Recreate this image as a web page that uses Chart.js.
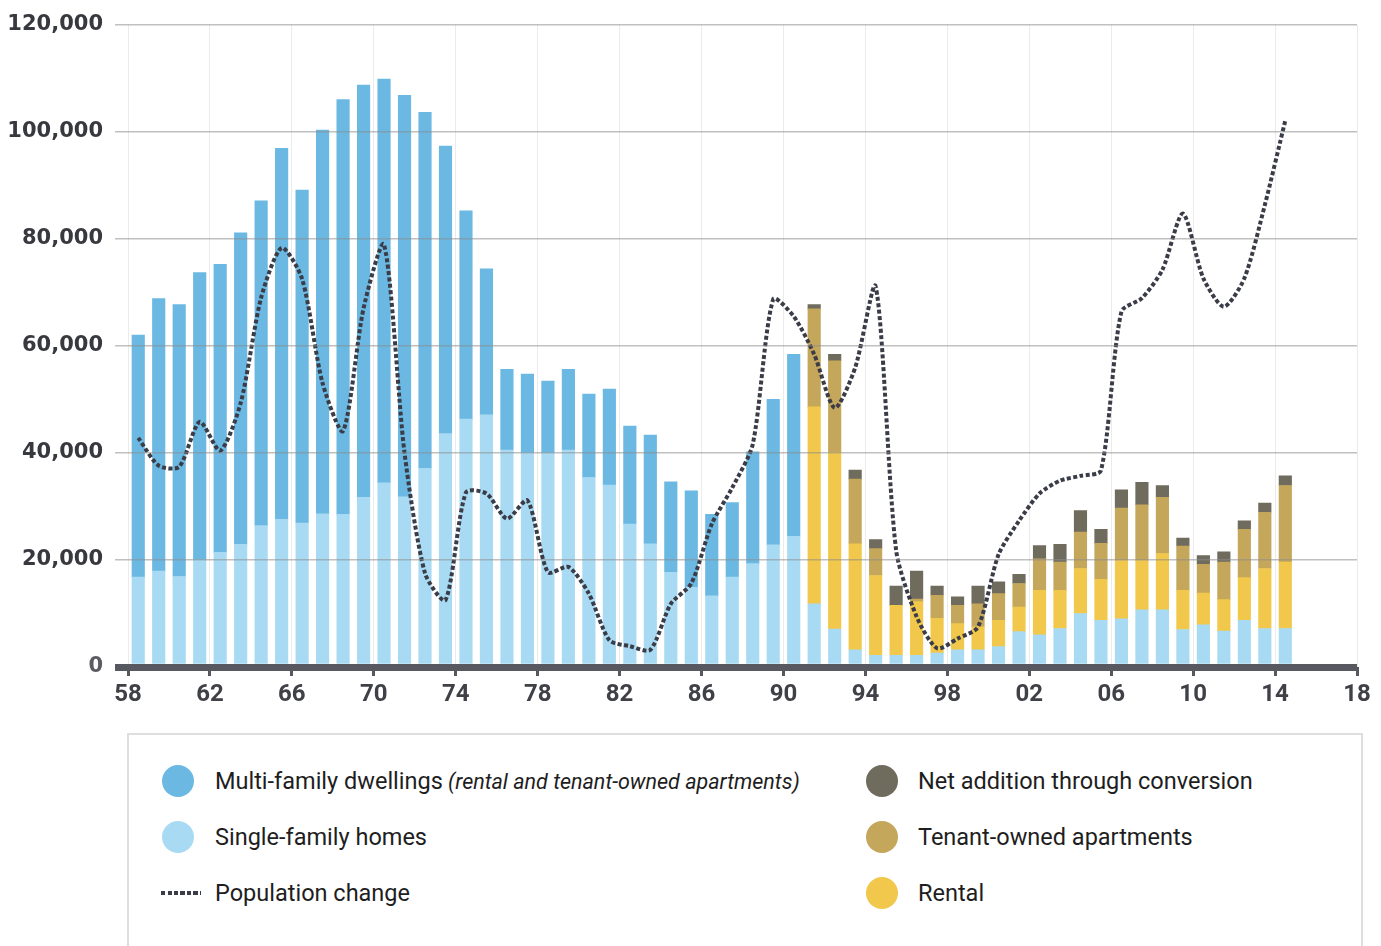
<!DOCTYPE html>
<html>
<head>
<meta charset="utf-8">
<script src="https://cdn.jsdelivr.net/npm/chart.js@4.4.1/dist/chart.umd.min.js"></script>
<style>
  html, body { margin: 0; padding: 0; background: #ffffff; }
  #wrap { position: relative; width: 1381px; height: 946px; overflow: hidden; background: #fff; }
  #c { position: absolute; left: 0; top: 0; }
  #legend { position: absolute; left: 127px; top: 733px; width: 1236px; height: 240px;
            border: 2px solid #dedede; box-sizing: border-box; background: #fff; }
  .item { position: absolute; font-family: Roboto, "Open Sans", sans-serif; font-size: 23.5px; color: #1e1e1e;
          line-height: 30px; white-space: nowrap; }
  .dot { position: absolute; width: 32px; height: 32px; border-radius: 50%; }
  .dash { position: absolute; width: 40px; height: 4px; }
  .it { font-style: italic; font-size: 21.5px; }
</style>
</head>
<body>
<div id="wrap">
  <canvas id="c" width="1381" height="720"></canvas>
  <div id="legend"></div>
</div>
<script>
// ---- data ----
const years = [1958,1959,1960,1961,1962,1963,1964,1965,1966,1967,1968,1969,1970,1971,1972,1973,1974,1975,1976,1977,
  1978,1979,1980,1981,1982,1983,1984,1985,1986,1987,1988,1989,1990,1991,1992,1993,1994,1995,1996,1997,
  1998,1999,2000,2001,2002,2003,2004,2005,2006,2007,2008,2009,2010,2011,2012,2013,2014];

const singleFamily = [16800,17900,16900,20000,21400,22900,26400,27600,26900,28600,28500,31700,34400,31800,37100,43600,46300,47100,
  40500,40000,40000,40500,35400,34000,26700,23000,17700,14900,13300,16800,19300,22800,24400,
  11800,7100,3200,2200,2200,2200,2600,3200,3200,3800,6600,6000,7200,10000,8700,9000,10700,10700,7000,7900,6700,8700,7200,7200];

const multiFamily = [45200,50900,50800,53700,53800,58200,60700,69300,62200,71700,77500,77000,75400,75000,66500,53700,38900,27300,
  15100,14700,13400,15100,15600,17900,18300,20300,16900,18000,15200,13900,20900,27200,34000,
  null,null,null,null,null,null,null,null,null,null,null,null,null,null,null,null,null,null,null,null,null,null,null,null];

const pre91 = [null,null,null,null,null,null,null,null,null,null,null,null,null,null,null,null,null,null,null,null,null,null,
  null,null,null,null,null,null,null,null,null,null,null];

const rental = pre91.concat([36800,33000,19800,14900,9300,10000,6500,4900,4300,4900,4600,8300,7100,8400,7700,10900,9200,10500,7300,5900,5900,8000,11200,12400]);
const tenantOwned = pre91.concat([18300,17100,12100,5000,0,500,4300,3400,4300,5000,4400,5900,5300,6800,6700,9800,10400,10500,8300,5400,7000,9000,10500,14300]);
const conversion = pre91.concat([800,1200,1700,1700,3600,5200,1700,1600,3300,2200,1700,2500,3300,4000,2600,3400,4200,2200,1500,1600,1900,1600,1700,1800]);

const population = [42800,37600,37400,45800,40400,49300,69000,78300,72500,53000,44100,67000,78900,40000,17500,12500,32600,32400,27700,31100,
  17700,18700,13700,5000,3900,3200,11800,15600,26700,33500,41600,68700,65500,58400,48400,55900,71100,21800,9400,3500,
  5300,7500,21000,27300,32400,34800,35700,36700,66400,68900,74200,84700,72600,67300,72600,86300,102100];

const xTickYears = [1958,1962,1966,1970,1974,1978,1982,1986,1990,1994,1998,2002,2006,2010,2014,2018];
const yTickValues = [0,20000,40000,60000,80000,100000,120000];

// ---- helpers ----
const pts = arr => arr.map((v, i) => ({ x: years[i] + 0.5, y: v }));

const colors = {
  multi: '#6bb8e2', single: '#a8dbf3', rental: '#f1c84b', tenant: '#c5a75b', conv: '#6f6b5d', pop: '#3a3c47'
};

const barCommon = { type: 'bar', stack: 'homes', barThickness: 12.5, borderWidth: 0, order: 1 };

const datasets = [
  Object.assign({ label: 'Single-family homes', data: pts(singleFamily), backgroundColor: colors.single }, barCommon),
  Object.assign({ label: 'Multi-family dwellings', data: pts(multiFamily), backgroundColor: colors.multi }, barCommon),
  Object.assign({ label: 'Rental', data: pts(rental), backgroundColor: colors.rental }, barCommon),
  Object.assign({ label: 'Tenant-owned apartments', data: pts(tenantOwned), backgroundColor: colors.tenant }, barCommon),
  Object.assign({ label: 'Net addition through conversion', data: pts(conversion), backgroundColor: colors.conv }, barCommon),
  { type: 'line', label: 'Population change', stack: 'pop', order: 0, data: pts(population),
    borderColor: colors.pop, borderWidth: 4, borderDash: [4, 2.4], borderCapStyle: 'butt',
    pointRadius: 0, tension: 0.25, fill: false }
];

new Chart(document.getElementById('c'), {
  type: 'bar',
  data: { datasets },
  options: {
    responsive: false,
    animation: false,
    layout: { padding: { top: 22, right: 24, left: 0, bottom: 0 } },
    plugins: { legend: { display: false }, tooltip: { enabled: false } },
    scales: {
      x: {
        type: 'linear', min: 1958, max: 2018, stacked: true, offset: false,
        afterBuildTicks: s => { s.ticks = xTickYears.map(v => ({ value: v })); },
        afterFit: s => { s.height = 53; },
        grid: { offset: false, color: '#ebebeb', lineWidth: 1, drawTicks: true, tickLength: 9,
                tickColor: '#55585f', tickWidth: 3 },
        border: { display: false },
        ticks: { padding: 5, maxRotation: 0, autoSkip: false, color: '#3f4147',
                 font: { family: 'Roboto', weight: 'bold', size: 24 },
                 callback: v => String(v % 100).padStart(2, '0') }
      },
      y: {
        type: 'linear', min: 0, max: 120000, stacked: true,
        afterBuildTicks: s => { s.ticks = yTickValues.map(v => ({ value: v })); },
        afterFit: s => { s.width = 128; },
        grid: { z: 1, tickLength: 13,
                color: c => c.tick && c.tick.value === 0 ? '#56595f' : 'rgba(140,140,140,0.55)',
                lineWidth: c => c.tick && c.tick.value === 0 ? 7 : 1.5,
                tickColor: c => c.tick && c.tick.value === 0 ? '#56595f' : 'rgba(140,140,140,0.55)',
                tickWidth: c => c.tick && c.tick.value === 0 ? 7 : 1.5 },
        border: { display: false },
        ticks: { padding: 12, color: c => c.tick && c.tick.value === 0 ? '#5a5c62' : '#38393f',
                 font: { family: 'DejaVu Sans', weight: 'bold', size: 21 },
                 callback: v => v.toLocaleString('en-US') }
      }
    }
  }
});

// ---- HTML legend built from the datasets ----
const legend = document.getElementById('legend');
const byLabel = l => datasets.find(d => d.label === l);
const entries = [
  { l: 'Multi-family dwellings', extra: ' (rental and tenant-owned apartments)', col: 0, row: 0 },
  { l: 'Single-family homes', col: 0, row: 1 },
  { l: 'Population change', col: 0, row: 2, line: true },
  { l: 'Net addition through conversion', col: 1, row: 0 },
  { l: 'Tenant-owned apartments', col: 1, row: 1 },
  { l: 'Rental', col: 1, row: 2 }
];
entries.forEach(e => {
  const ds = byLabel(e.l);
  const rowY = [781, 837, 893][e.row] - 733 - 2;
  const markX = (e.col === 0 ? 178 : 882) - 127 - 2;
  const textX = (e.col === 0 ? 215 : 918) - 127 - 2;
  if (e.line) {
    const d = document.createElement('div');
    d.className = 'dash';
    d.style.left = (161 - 127 - 2) + 'px';
    d.style.top = (rowY - 2) + 'px';
    d.style.background = 'repeating-linear-gradient(to right, ' + ds.borderColor + ' 0px, ' + ds.borderColor +
      ' 4px, transparent 4px, transparent 6.5px)';
    legend.appendChild(d);
  } else {
    const d = document.createElement('div');
    d.className = 'dot';
    d.style.left = (markX - 16) + 'px';
    d.style.top = (rowY - 16) + 'px';
    d.style.background = ds.backgroundColor;
    legend.appendChild(d);
  }
  const t = document.createElement('div');
  t.className = 'item';
  t.style.left = textX + 'px';
  t.style.top = (rowY - 15) + 'px';
  t.textContent = ds.label;
  if (e.extra) {
    const s = document.createElement('span');
    s.className = 'it';
    s.textContent = e.extra;
    t.appendChild(s);
  }
  legend.appendChild(t);
});
</script>
</body>
</html>
